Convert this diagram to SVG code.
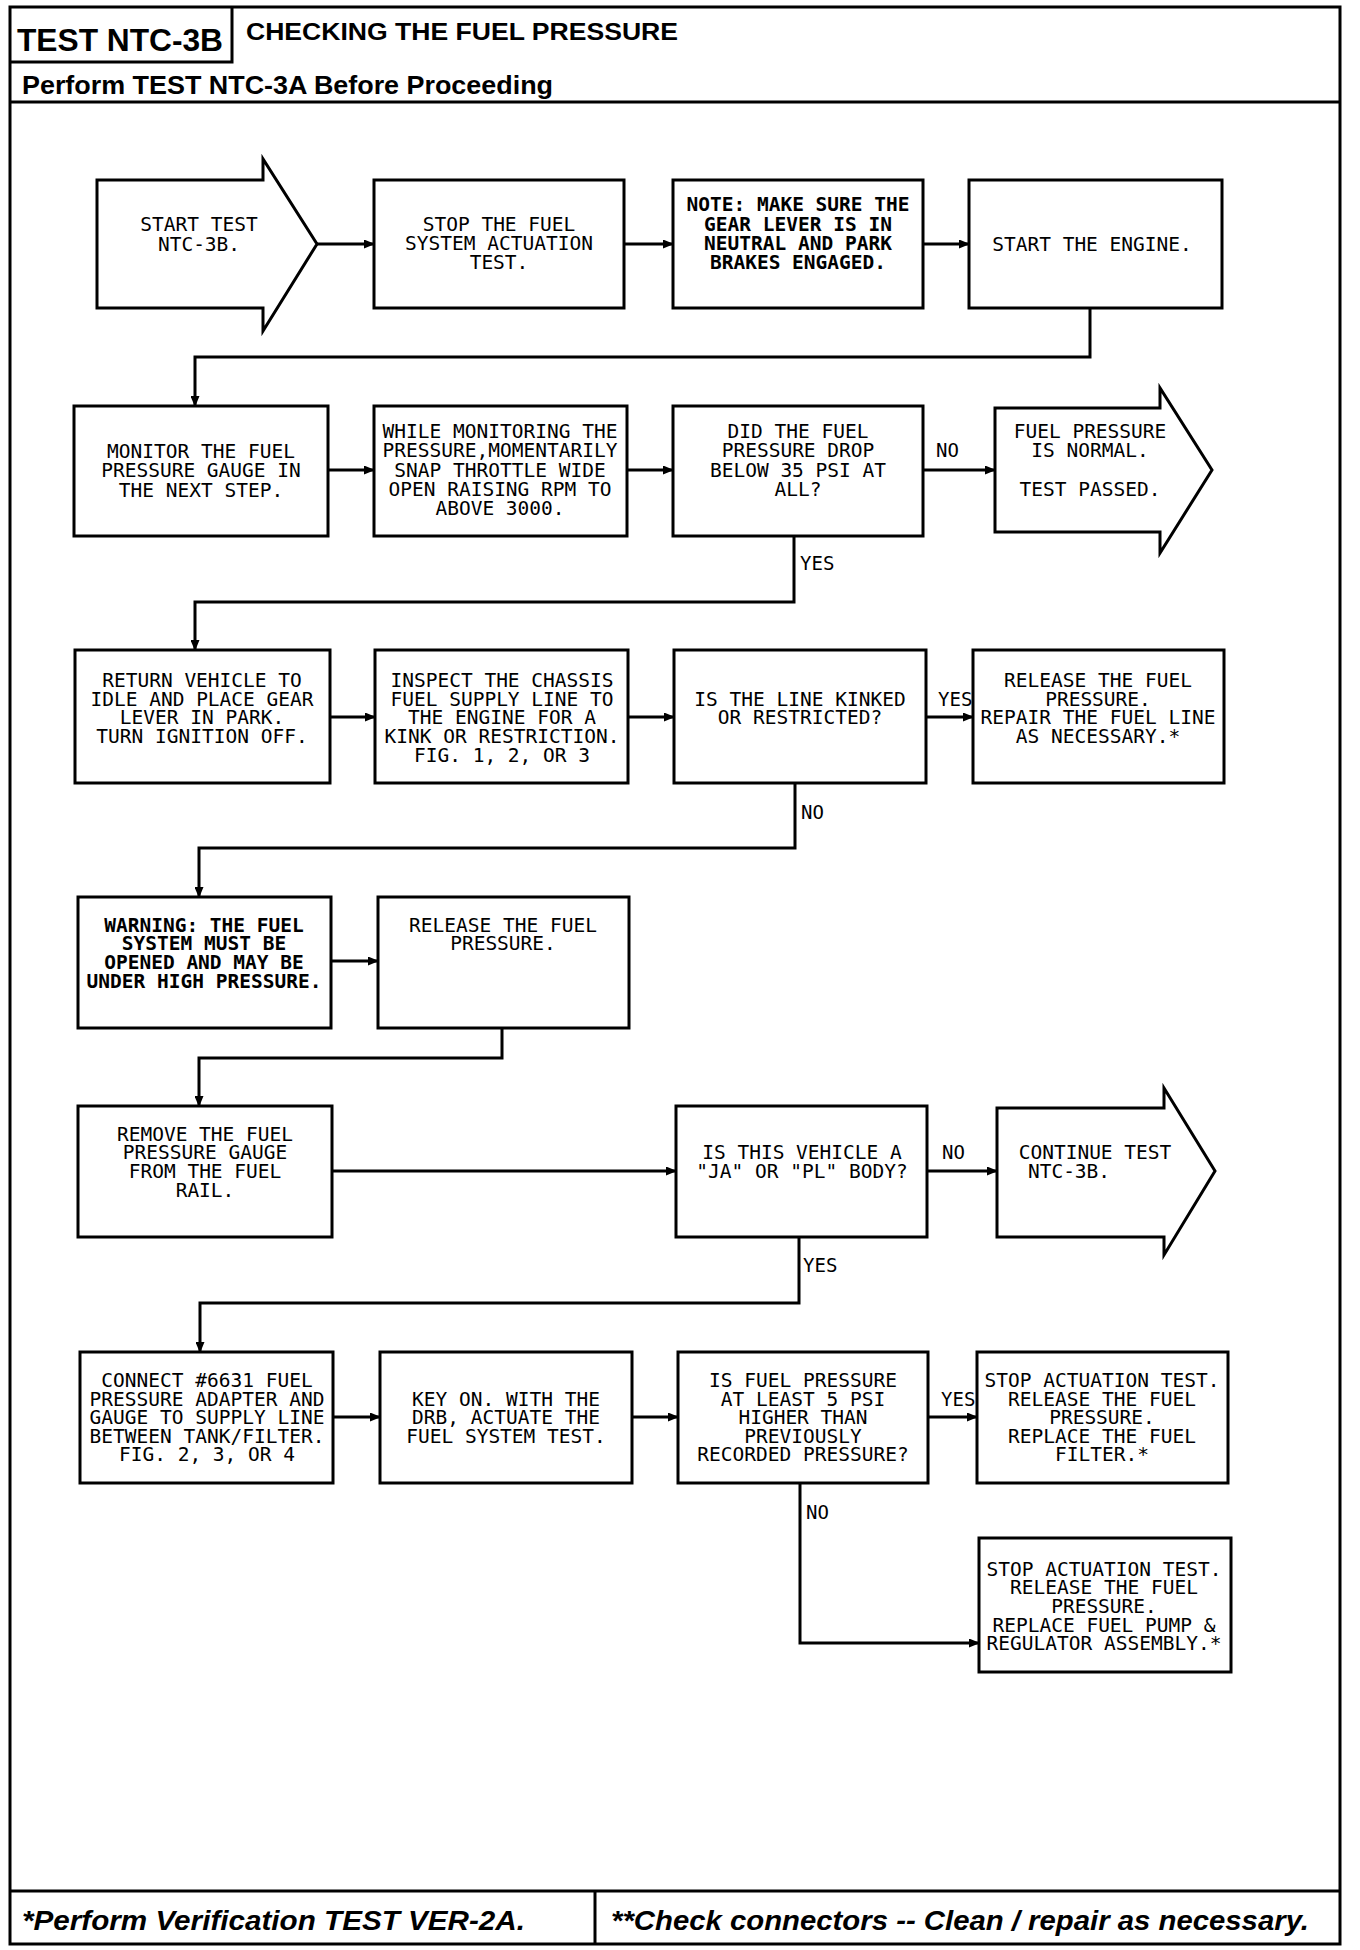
<svg xmlns="http://www.w3.org/2000/svg" width="1360" height="1950" viewBox="0 0 1360 1950">
<defs>
<marker id="ah" markerUnits="userSpaceOnUse" markerWidth="11" markerHeight="9" refX="10" refY="4.5" orient="auto">
<path d="M0,0 L11,4.5 L0,9 z" fill="#000"/>
</marker>
<style>
.box{fill:#fff;stroke:#000;stroke-width:3}
.t{font-family:"DejaVu Sans Mono","Liberation Mono",monospace;font-size:19.5px;fill:#000;text-anchor:middle}
.b{font-weight:bold}
.lbl{font-family:"DejaVu Sans Mono","Liberation Mono",monospace;font-size:19px;fill:#000}
.a{fill:none;stroke:#000;stroke-width:3;marker-end:url(#ah)}
.h{font-family:"Liberation Sans",Arial,sans-serif;font-weight:bold;fill:#000}
</style>
</defs>
<rect width="1360" height="1950" fill="#fff"/>
<g id="frame" fill="none" stroke="#000" stroke-width="3">
<rect x="10" y="7" width="1330" height="1937"/>
<path d="M232,7 V62 H10"/>
<line x1="10" y1="102" x2="1340" y2="102"/>
<line x1="10" y1="1891" x2="1340" y2="1891"/>
<line x1="595" y1="1891" x2="595" y2="1944"/>
</g>
<g id="header">
<text class="h" x="17" y="51" font-size="31" textLength="206" lengthAdjust="spacingAndGlyphs">TEST NTC-3B</text>
<text class="h" x="246" y="40" font-size="23" textLength="432" lengthAdjust="spacingAndGlyphs">CHECKING THE FUEL PRESSURE</text>
<text class="h" x="22" y="94" font-size="25" textLength="531" lengthAdjust="spacingAndGlyphs">Perform TEST NTC-3A Before Proceeding</text>
</g>
<g id="footer">
<text class="h" x="22" y="1930" font-size="28" font-style="italic" textLength="503" lengthAdjust="spacingAndGlyphs">*Perform Verification TEST VER-2A.</text>
<text class="h" x="611" y="1930" font-size="28" font-style="italic" textLength="698" lengthAdjust="spacingAndGlyphs">**Check connectors -- Clean / repair as necessary.</text>
</g>
<g id="connectors">
<line class="a" x1="317" y1="244" x2="374" y2="244"/>
<line class="a" x1="624" y1="244" x2="673" y2="244"/>
<line class="a" x1="923" y1="244" x2="969" y2="244"/>
<path class="a" d="M1090,308 V357 H195 V406"/>
<line class="a" x1="328" y1="470" x2="374" y2="470"/>
<line class="a" x1="627" y1="470" x2="673" y2="470"/>
<line class="a" x1="923" y1="470" x2="995" y2="470"/>
<path class="a" d="M794,536 V602 H195 V650"/>
<line class="a" x1="330" y1="717" x2="375" y2="717"/>
<line class="a" x1="628" y1="717" x2="674" y2="717"/>
<line class="a" x1="926" y1="717" x2="973" y2="717"/>
<path class="a" d="M795,783 V848 H199 V897"/>
<line class="a" x1="331" y1="961" x2="378" y2="961"/>
<path class="a" d="M502,1028 V1058 H199 V1106"/>
<line class="a" x1="332" y1="1171" x2="676" y2="1171"/>
<line class="a" x1="927" y1="1171" x2="997" y2="1171"/>
<path class="a" d="M799,1237 V1303 H200 V1352"/>
<line class="a" x1="333" y1="1417" x2="380" y2="1417"/>
<line class="a" x1="632" y1="1417" x2="678" y2="1417"/>
<line class="a" x1="928" y1="1417" x2="977" y2="1417"/>
<path class="a" d="M800,1483 V1643 H979"/>
<text class="lbl" x="936" y="457">NO</text>
<text class="lbl" x="800" y="570">YES</text>
<text class="lbl" x="938" y="706">YES</text>
<text class="lbl" x="801" y="819">NO</text>
<text class="lbl" x="942" y="1159">NO</text>
<text class="lbl" x="803" y="1272">YES</text>
<text class="lbl" x="941" y="1406">YES</text>
<text class="lbl" x="806" y="1519">NO</text>
</g>
<g id="start">
<path class="box" d="M97,180 H263 V159 L317,244 L263,331 V308 H97 Z"/>
<text class="t"><tspan x="199" y="231">START TEST</tspan><tspan x="199" y="251">NTC-3B.</tspan></text>
</g>
<g id="n2">
<rect class="box" x="374" y="180" width="250" height="128"/>
<text class="t"><tspan x="499" y="231">STOP THE FUEL</tspan><tspan x="499" y="250">SYSTEM ACTUATION</tspan><tspan x="499" y="269">TEST.</tspan></text>
</g>
<g id="n3">
<rect class="box" x="673" y="180" width="250" height="128"/>
<text class="t b"><tspan x="798" y="211">NOTE: MAKE SURE THE</tspan><tspan x="798" y="231">GEAR LEVER IS IN</tspan><tspan x="798" y="250">NEUTRAL AND PARK</tspan><tspan x="798" y="269">BRAKES ENGAGED.</tspan></text>
</g>
<g id="n4">
<rect class="box" x="969" y="180" width="253" height="128"/>
<text class="t"><tspan x="1092" y="251">START THE ENGINE.</tspan></text>
</g>
<g id="n5">
<rect class="box" x="74" y="406" width="254" height="130"/>
<text class="t"><tspan x="201" y="458">MONITOR THE FUEL</tspan><tspan x="201" y="477">PRESSURE GAUGE IN</tspan><tspan x="201" y="497">THE NEXT STEP.</tspan></text>
</g>
<g id="n6">
<rect class="box" x="374" y="406" width="253" height="130"/>
<text class="t"><tspan x="500" y="438">WHILE MONITORING THE</tspan><tspan x="500" y="457">PRESSURE,MOMENTARILY</tspan><tspan x="500" y="477">SNAP THROTTLE WIDE</tspan><tspan x="500" y="496">OPEN RAISING RPM TO</tspan><tspan x="500" y="515">ABOVE 3000.</tspan></text>
</g>
<g id="n7">
<rect class="box" x="673" y="406" width="250" height="130"/>
<text class="t"><tspan x="798" y="438">DID THE FUEL</tspan><tspan x="798" y="457">PRESSURE DROP</tspan><tspan x="798" y="477">BELOW 35 PSI AT</tspan><tspan x="798" y="496">ALL?</tspan></text>
</g>
<g id="pass">
<path class="box" d="M995,408 H1160 V388 L1212,470 L1160,553 V532 H995 Z"/>
<text class="t"><tspan x="1090" y="438">FUEL PRESSURE</tspan><tspan x="1090" y="457">IS NORMAL.</tspan><tspan x="1090" y="496">TEST PASSED.</tspan></text>
</g>
<g id="n8">
<rect class="box" x="75" y="650" width="255" height="133"/>
<text class="t"><tspan x="202" y="687">RETURN VEHICLE TO</tspan><tspan x="202" y="706">IDLE AND PLACE GEAR</tspan><tspan x="202" y="724">LEVER IN PARK.</tspan><tspan x="202" y="743">TURN IGNITION OFF.</tspan></text>
</g>
<g id="n9">
<rect class="box" x="375" y="650" width="253" height="133"/>
<text class="t"><tspan x="502" y="687">INSPECT THE CHASSIS</tspan><tspan x="502" y="706">FUEL SUPPLY LINE TO</tspan><tspan x="502" y="724">THE ENGINE FOR A</tspan><tspan x="502" y="743">KINK OR RESTRICTION.</tspan><tspan x="502" y="762">FIG. 1, 2, OR 3</tspan></text>
</g>
<g id="n10">
<rect class="box" x="674" y="650" width="252" height="133"/>
<text class="t"><tspan x="800" y="706">IS THE LINE KINKED</tspan><tspan x="800" y="724">OR RESTRICTED?</tspan></text>
</g>
<g id="n11">
<rect class="box" x="973" y="650" width="251" height="133"/>
<text class="t"><tspan x="1098" y="687">RELEASE THE FUEL</tspan><tspan x="1098" y="706">PRESSURE.</tspan><tspan x="1098" y="724">REPAIR THE FUEL LINE</tspan><tspan x="1098" y="743">AS NECESSARY.*</tspan></text>
</g>
<g id="n12">
<rect class="box" x="78" y="897" width="253" height="131"/>
<text class="t b"><tspan x="204" y="932">WARNING: THE FUEL</tspan><tspan x="204" y="950">SYSTEM MUST BE</tspan><tspan x="204" y="969">OPENED AND MAY BE</tspan><tspan x="204" y="988">UNDER HIGH PRESSURE.</tspan></text>
</g>
<g id="n13">
<rect class="box" x="378" y="897" width="251" height="131"/>
<text class="t"><tspan x="503" y="932">RELEASE THE FUEL</tspan><tspan x="503" y="950">PRESSURE.</tspan></text>
</g>
<g id="n14">
<rect class="box" x="78" y="1106" width="254" height="131"/>
<text class="t"><tspan x="205" y="1141">REMOVE THE FUEL</tspan><tspan x="205" y="1159">PRESSURE GAUGE</tspan><tspan x="205" y="1178">FROM THE FUEL</tspan><tspan x="205" y="1197">RAIL.</tspan></text>
</g>
<g id="n15">
<rect class="box" x="676" y="1106" width="251" height="131"/>
<text class="t"><tspan x="802" y="1159">IS THIS VEHICLE A</tspan><tspan x="802" y="1178">&quot;JA&quot; OR &quot;PL&quot; BODY?</tspan></text>
</g>
<g id="cont">
<path class="box" d="M997,1108 H1164 V1088 L1215,1171 L1164,1255 V1237 H997 Z"/>
<text class="t"><tspan x="1095" y="1159">CONTINUE TEST</tspan><tspan x="1069" y="1178">NTC-3B.</tspan></text>
</g>
<g id="n16">
<rect class="box" x="80" y="1352" width="253" height="131"/>
<text class="t"><tspan x="207" y="1387">CONNECT #6631 FUEL</tspan><tspan x="207" y="1406">PRESSURE ADAPTER AND</tspan><tspan x="207" y="1424">GAUGE TO SUPPLY LINE</tspan><tspan x="207" y="1443">BETWEEN TANK/FILTER.</tspan><tspan x="207" y="1461">FIG. 2, 3, OR 4</tspan></text>
</g>
<g id="n17">
<rect class="box" x="380" y="1352" width="252" height="131"/>
<text class="t"><tspan x="506" y="1406">KEY ON. WITH THE</tspan><tspan x="506" y="1424">DRB, ACTUATE THE</tspan><tspan x="506" y="1443">FUEL SYSTEM TEST.</tspan></text>
</g>
<g id="n18">
<rect class="box" x="678" y="1352" width="250" height="131"/>
<text class="t"><tspan x="803" y="1387">IS FUEL PRESSURE</tspan><tspan x="803" y="1406">AT LEAST 5 PSI</tspan><tspan x="803" y="1424">HIGHER THAN</tspan><tspan x="803" y="1443">PREVIOUSLY</tspan><tspan x="803" y="1461">RECORDED PRESSURE?</tspan></text>
</g>
<g id="n19">
<rect class="box" x="977" y="1352" width="251" height="131"/>
<text class="t"><tspan x="1102" y="1387">STOP ACTUATION TEST.</tspan><tspan x="1102" y="1406">RELEASE THE FUEL</tspan><tspan x="1102" y="1424">PRESSURE.</tspan><tspan x="1102" y="1443">REPLACE THE FUEL</tspan><tspan x="1102" y="1461">FILTER.*</tspan></text>
</g>
<g id="n20">
<rect class="box" x="979" y="1538" width="252" height="134"/>
<text class="t"><tspan x="1104" y="1576">STOP ACTUATION TEST.</tspan><tspan x="1104" y="1594">RELEASE THE FUEL</tspan><tspan x="1104" y="1613">PRESSURE.</tspan><tspan x="1104" y="1632">REPLACE FUEL PUMP &amp;</tspan><tspan x="1104" y="1650">REGULATOR ASSEMBLY.*</tspan></text>
</g>
</svg>
